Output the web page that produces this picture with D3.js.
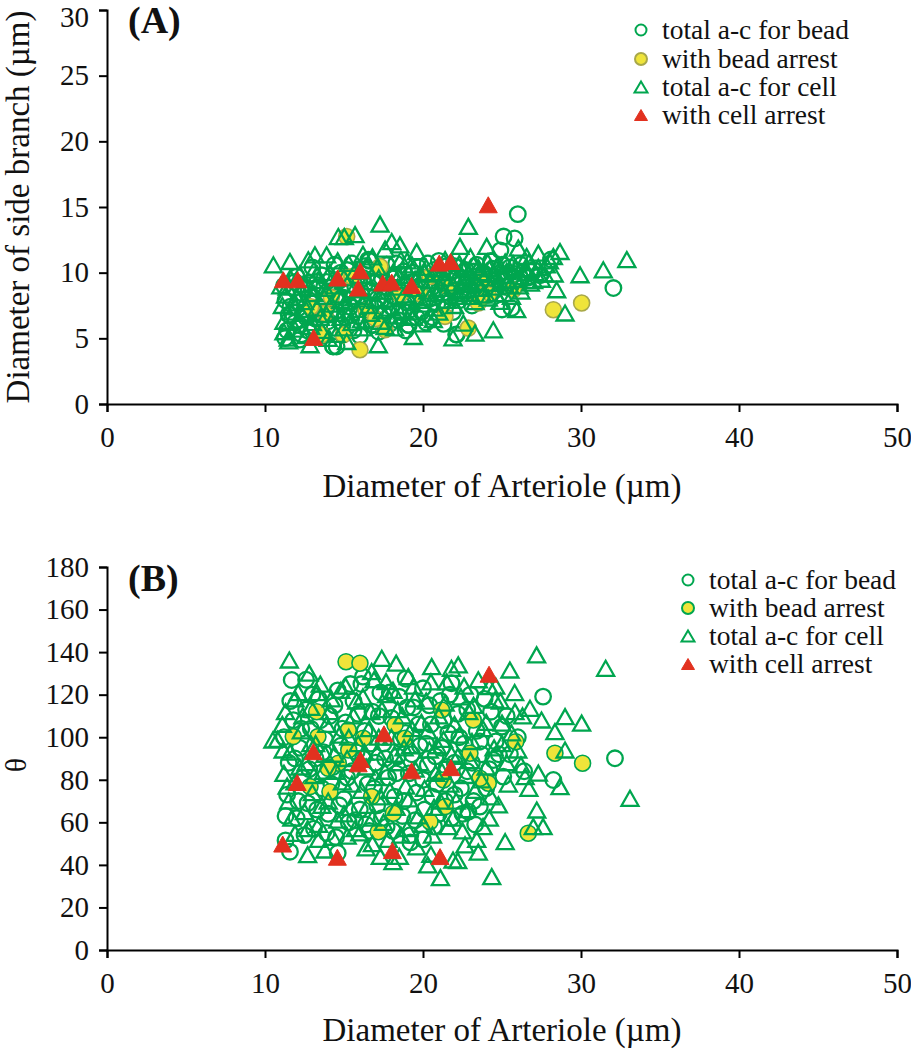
<!DOCTYPE html>
<html><head><meta charset="utf-8">
<script src="https://cdn.jsdelivr.net/npm/d3@7"></script>
<style>
html,body{margin:0;padding:0;background:#fff;}
svg{display:block;font-family:"Liberation Serif","Times New Roman",serif;}
svg text{font-family:"Liberation Serif","Times New Roman",serif;}
</style></head>
<body><svg id="c" width="911" height="1050"></svg>
<script>
// ---------- DATA ----------
const seriesNames = ["total a-c for bead","with bead arrest","total a-c for cell","with cell arrest"];
const xTicks = [0,10,20,30,40,50];
const yTicksA = [0,5,10,15,20,25,30];
const yTicksB = [0,20,40,60,80,100,120,140,160,180];

// Panel A: [arteriole diameter, side-branch diameter]
const beadTotalA = [[11.3,7.9],[11.5,6.8],[11.4,5.6],[11.8,8.8],[11.9,6.2],[12.1,7.3],[12.3,5.3],[12.4,8.4],[12.6,6.6],[12.8,9.2],[12.9,7.7],[13.1,5.9],[13.3,8.9],[13.5,6.9],[13.6,9.8],[13.8,7.8],[14.0,6.3],[14.2,8.6],[14.3,4.4],[14.5,7.1],[14.7,9.4],[14.9,6.0],[15.0,8.1],[15.2,10.2],[15.4,7.4],[15.6,5.6],[15.7,9.0],[15.9,6.7],[16.1,8.3],[16.3,10.5],[16.5,7.6],[16.6,10.9],[16.8,6.0],[16.9,9.2],[17.1,8.0],[17.3,10.3],[17.5,6.9],[17.7,10.6],[17.8,8.8],[18.0,7.4],[18.2,9.6],[18.4,6.4],[18.6,8.5],[18.8,10.1],[19.0,7.7],[19.1,6.0],[19.3,9.3],[19.5,8.2],[19.7,10.4],[19.9,7.0],[20.1,9.0],[20.3,10.7],[20.4,8.0],[20.6,6.6],[20.8,9.6],[21.0,10.9],[21.2,8.4],[21.4,7.3],[21.6,9.9],[21.8,8.8],[22.0,10.5],[22.1,5.3],[22.3,7.9],[22.5,9.3],[22.7,10.2],[22.9,8.6],[23.1,7.5],[23.3,9.7],[23.4,10.6],[23.6,8.9],[23.8,10.0],[24.0,8.3],[24.2,9.5],[24.4,10.3],[24.6,8.7],[24.9,11.7],[25.0,7.2],[25.1,12.75],[25.2,9.8],[25.5,10.4],[25.6,7.3],[25.8,12.6],[26.0,14.46],[26.0,9.3],[26.3,10.0],[26.6,9.6],[27.0,10.2],[27.4,9.8],[28.1,11.0],[32.05,8.83],[22.13,5.27],[19.07,6.03],[16.54,10.98],[17.7,10.6],[14.53,4.38],[11.27,5.02],[16.75,6.03],[14.32,4.38],[12.0,9.7],[11.2,9.0],[13.0,10.4],[14.4,10.6],[12.2,4.9],[18.9,5.6],
 [11.6,7.4],[11.9,9.3],[12.2,6.0],[12.5,8.9],[12.7,5.6],[13.0,8.2],[13.2,6.5],[13.4,7.4],[13.7,5.2],[13.9,9.3],[14.1,7.0],[14.4,5.8],[14.6,8.2],[14.8,10.0],[15.1,6.6],[15.3,8.7],[15.5,10.7],[15.8,7.9],[16.0,5.2],[16.2,9.6],[16.4,6.3],[16.7,8.6],[17.0,7.3],[17.2,5.5],[17.4,9.6],[17.6,7.8],[17.9,6.1],[18.1,8.2],[18.3,10.7],[18.5,7.0],[18.8,9.0],[19.2,7.2],[19.4,10.0],[19.6,6.6],[19.8,9.0],[20.0,7.9],[20.2,6.2],[20.5,8.8],[20.7,10.2],[20.9,7.6],[21.1,9.4],[21.3,6.1],[21.5,10.5],[21.7,8.2],[21.9,7.0],[22.2,9.8],[22.4,8.6],[22.8,9.5],[23.2,10.1],[23.5,8.2],[23.9,9.1],[24.3,10.9],[24.7,9.5],[25.0,10.6],[25.3,8.9],[25.8,9.9],[26.2,10.6],[26.8,10.1]];
const beadArrestA = [[15.17,12.75],[16.01,4.13],[17.6,5.65],[13.59,5.27],[14.96,9.71],[17.28,10.47],[18.54,8.32],[14.96,5.27],[30.04,7.69],[28.25,7.18],[24.13,8.32],[25.72,8.7],[23.5,7.69],[22.87,5.78],[21.39,6.67],[20.45,9.71],[13.8,6.9],[15.5,9.7],[12.9,7.4],[16.4,7.1],[19.8,8.4],[21.6,8.9],[23.8,9.4],[14.2,8.1],[17.0,6.5]];
const cellTotalA = [[10.53,10.6],[11.58,10.85],[14.64,12.75],[15.02,12.75],[15.7,12.9],[17.28,13.7],[18.02,12.37],[18.54,12.12],[13.16,11.36],[13.9,11.36],[12.74,10.98],[17.17,4.51],[12.85,4.51],[11.47,5.02],[19.39,5.14],[15.17,4.76],[22.87,13.52],[24.03,12.0],[22.34,12.0],[26.03,11.87],[26.56,11.23],[27.3,11.49],[28.25,11.23],[28.67,11.61],[29.94,9.84],[31.41,10.22],[28.46,8.7],[28.99,6.93],[25.93,7.18],[24.87,7.81],[24.45,5.65],[23.29,5.4],[22.55,6.16],[20.65,6.42],[24.13,8.07],[32.9,11.0],[21.9,5.04],
 [11.0,9.0],[11.1,7.5],[11.2,6.3],[11.3,8.3],[11.5,4.8],[11.6,9.6],[11.7,7.0],[11.9,5.7],[12.0,8.1],[12.2,9.9],[12.3,6.9],[12.5,7.8],[12.6,5.2],[12.8,8.8],[13.0,6.2],[13.1,10.2],[13.3,7.3],[13.4,9.4],[13.6,5.6],[13.7,8.2],[13.9,6.8],[14.1,10.0],[14.2,7.6],[14.4,9.0],[14.5,5.3],[14.7,8.3],[14.8,6.6],[15.0,9.6],[15.1,7.8],[15.3,10.7],[15.5,6.2],[15.6,8.7],[15.8,7.2],[16.0,9.8],[16.2,5.8],[16.3,8.0],[16.5,9.3],[16.7,6.9],[16.8,11.2],[17.0,7.9],[17.2,9.6],[17.3,6.3],[17.5,8.6],[17.6,11.8],[17.9,7.3],[18.1,10.0],[18.2,5.8],[18.4,8.9],[18.6,11.0],[18.7,7.1],[18.9,9.4],[19.1,8.1],[19.3,10.6],[19.4,6.6],[19.6,8.8],[19.8,9.9],[20.0,7.6],[20.2,10.4],[20.3,8.6],[20.5,9.4],[20.7,7.3],[20.9,10.3],[21.1,8.8],[21.3,9.6],[21.5,7.9],[21.7,10.2],[21.9,9.0],[22.1,8.2],[22.3,10.7],[22.5,9.3],[22.7,8.4],[22.9,10.0],[23.1,9.1],[23.3,7.8],[23.5,10.4],[23.7,8.8],[23.9,9.6],[24.1,10.8],[24.3,8.9],[24.5,9.9],[24.7,10.5],[24.9,9.2],[25.1,8.4],[25.3,10.1],[25.5,9.0],[25.7,10.7],[26.0,9.5],[26.2,8.6],[26.5,10.3],[26.8,9.2],[27.1,10.0],[27.5,9.5],[27.8,10.6],[28.3,9.9],[23.0,11.2],[21.4,11.0],[19.6,11.6],[16.2,11.4],[14.6,10.9],
 [11.2,5.5],[11.4,8.9],[11.8,7.7],[12.1,6.4],[12.4,9.1],[12.6,7.2],[12.9,5.9],[13.1,8.4],[13.3,9.9],[13.5,6.6],[13.8,8.8],[14.0,5.0],[14.3,9.6],[14.5,6.9],[14.8,7.9],[15.0,5.8],[15.2,9.1],[15.4,7.0],[15.7,10.1],[15.9,8.2],[16.1,6.4],[16.4,10.5],[16.6,7.5],[16.9,8.6],[17.1,10.4],[17.4,7.1],[17.6,5.9],[17.8,9.2],[18.0,8.0],[18.3,6.7],[18.5,9.8],[18.8,8.3],[19.0,10.9],[19.2,7.0],[19.5,9.5],[19.7,7.9],[19.9,6.1],[20.1,10.0],[20.4,8.1],[20.6,9.9],[20.8,8.4],[21.0,7.0],[21.2,10.0],[21.4,8.5],[21.6,9.2],[21.8,10.8],[22.0,7.5],[22.2,9.8],[22.4,8.7],[22.6,10.4],[22.8,9.4],[23.0,8.2],[23.2,10.6],[23.4,9.2],[23.6,10.0],[23.8,8.3],[24.0,9.9],[24.2,10.3],[24.4,9.2],[24.6,8.4],[24.8,10.6],[25.0,9.8],[25.2,10.8],[25.4,9.4],[25.6,8.2],[25.9,10.3],[26.1,9.0],[26.4,9.7],[26.7,10.8],[27.0,9.4],[27.3,10.4],[27.7,9.9],[28.0,10.9]];
const cellArrestA = [[11.16,9.46],[12.07,9.46],[14.6,9.59],[16.03,10.14],[15.9,8.83],[17.45,9.21],[18.02,9.28],[19.28,9.03],[13.08,5.07],[21.03,10.73],[21.75,10.85],[24.13,15.17]];

// Panel B: [arteriole diameter, angle θ]
const beadTotalB = [[11.69,126.9],[11.58,46.2],[11.3,51.5],[27.6,119.1],[32.15,90.1],[28.25,79.9],[25.08,81.5],[24.45,89.3],[23.6,67.4],[22.87,65.0],[21.8,125.4],[20.0,52.0],[19.2,50.6],[14.6,45.6],[12.6,127],[16.2,128.5],[18.9,127.5],
 [11.2,100],[11.5,88],[11.4,73],[11.8,108],[12.0,62],[12.2,95],[12.4,81],[12.6,113],[12.7,69],[12.9,104],[13.1,57],[13.2,90],[13.4,118],[13.6,76],[13.8,99],[14.0,64],[14.1,110],[14.3,86],[14.5,53],[14.6,122],[14.8,96],[15.0,71],[15.1,107],[15.3,60],[15.5,84],[15.6,117],[15.8,93],[16.0,66],[16.1,125],[16.3,103],[16.5,78],[16.6,56],[16.8,112],[17.0,88],[17.1,68],[17.3,121],[17.5,97],[17.7,58],[17.8,81],[18.0,109],[18.2,72],[18.4,91],[18.5,119],[18.7,63],[18.9,102],[19.1,83],[19.2,54],[19.4,114],[19.6,74],[19.8,96],[20.0,123],[20.1,66],[20.3,87],[20.5,106],[20.7,58],[20.9,78],[21.1,117],[21.2,95],[21.4,70],[21.6,102],[21.8,62],[22.0,88],[22.2,111],[22.4,76],[22.6,97],[22.8,84],[23.0,120],[23.2,70],[23.4,103],[23.7,92],[24.0,76],[24.3,112],[24.6,98],[25.0,105],[25.5,92],[26.0,100],[26.4,84],
 [11.3,63],[11.6,117],[11.9,90],[12.1,70],[12.3,104],[12.5,54],[12.8,85],[13.0,120],[13.3,66],[13.5,108],[13.7,93],[13.9,55],[14.2,78],[14.4,115],[14.7,68],[14.9,104],[15.2,81],[15.4,125],[15.7,61],[15.9,111],[16.2,90],[16.4,59],[16.7,97],[16.9,76],[17.2,110],[17.4,62],[17.6,90],[17.9,121],[18.1,56],[18.3,83],[18.6,99],[18.8,70],[19.0,114],[19.3,92],[19.5,61],[19.7,106],[20.0,80],[20.2,97],[20.4,115],[20.6,72],[20.8,91],[21.0,64],[21.3,108],[21.5,86],[21.7,120],[22.0,73],[22.3,100],[22.5,64],[22.8,113],[23.1,88],[23.3,59],[23.6,98],[23.9,118],[24.2,85],[24.8,92],[25.3,110]];
const beadArrestB = [[15.13,135.5],[16.01,134.8],[13.27,112.0],[13.35,100.3],[11.79,100.3],[15.27,103.4],[16.22,99.5],[18.23,105.8],[18.86,99.5],[15.3,94.0],[14.64,87.8],[14.0,85.4],[14.11,74.4],[12.85,76.8],[16.75,72.1],[18.12,64.3],[17.17,55.6],[20.44,60.3],[21.4,67.4],[21.18,112.8],[21.3,79.9],[23.18,108.1],[22.97,92.5],[24.13,78.4],[23.6,80.7],[25.87,97.9],[28.35,92.5],[30.1,87.8],[26.66,54.9]];
const cellTotalB = [[11.54,136.3],[17.39,137.1],[18.3,134.8],[20.55,133.2],[17.66,126.1],[19.07,128.5],[12.8,130.1],[16.75,130.8],[27.19,138.7],[31.56,132.4],[25.5,131.6],[22.23,134.0],[21.8,132.4],[24.56,117.5],[24.2,123.8],[26.77,113.6],[27.5,108.1],[28.99,109.7],[30.04,106.6],[28.35,102.6],[28.99,94.0],[25.82,112.0],[25.0,106.6],[28.67,76.8],[27.3,83.1],[26.46,81.5],[33.1,71.3],[27.2,65.8],[27.6,58.0],[26.98,58.0],[25.2,50.9],[24.35,34.5],[24.77,68.2],[23.8,58.0],[22.66,49.4],[21.9,42.3],[21.1,34.0],[10.8,99],[11.2,83],[11.5,70],[11.9,54.8],[13.4,52.0],[15.2,53.5],[16.4,48],[18.1,41.5],[17.3,44],[20.5,45],[19.6,48.5],[10.5,98.7],[11.15,94],
 [11.3,112],[11.6,93],[11.9,79],[12.1,121],[12.3,103],[12.5,65],[12.6,88],[12.9,114],[13.0,74],[13.2,97],[13.4,59],[13.5,125],[13.7,84],[13.9,106],[14.0,70],[14.2,118],[14.4,92],[14.6,61],[14.7,101],[14.9,79],[15.1,124],[15.2,90],[15.4,67],[15.6,110],[15.7,57],[15.9,97],[16.1,75],[16.2,119],[16.4,86],[16.6,104],[16.8,62],[16.9,127],[17.1,93],[17.3,72],[17.4,113],[17.6,84],[17.8,52],[18.0,100],[18.1,122],[18.3,67],[18.5,88],[18.7,110],[18.9,77],[19.0,57],[19.2,96],[19.4,124],[19.5,85],[19.7,63],[19.9,107],[20.1,76],[20.2,117],[20.4,94],[20.6,54],[20.8,83],[21.0,110],[21.1,70],[21.3,99],[21.5,126],[21.7,78],[21.9,62],[22.0,106],[22.2,91],[22.4,119],[22.5,56],[22.7,82],[22.9,112],[23.1,98],[23.3,75],[23.5,127],[23.8,104],[24.0,86],[24.2,62],[24.5,95],[24.9,117],[25.3,88],[25.6,102],[26.0,94],[26.3,110],[26.7,76],[23.5,46],[22.2,42],[20.3,40],[18.5,44],[16.8,50],[13.8,47],[12.7,44.8],
 [11.1,106],[11.4,77],[11.7,62],[11.9,118],[12.2,86],[12.4,110],[12.7,57],[12.9,97],[13.1,82],[13.3,121],[13.6,68],[13.8,92],[14.1,112],[14.3,53],[14.5,84],[14.8,122],[15.0,64],[15.3,100],[15.5,78],[15.8,117],[16.0,55],[16.3,93],[16.5,68],[16.7,112],[17.0,81],[17.2,100],[17.5,60],[17.7,120],[17.9,75],[18.2,92],[18.4,113],[18.6,54],[18.8,95],[19.1,71],[19.3,104],[19.5,118],[19.8,88],[20.0,59],[20.3,103],[20.5,126],[20.7,67],[20.9,96],[21.2,84],[21.4,116],[21.6,58],[21.8,92],[22.1,70],[22.3,101],[22.6,124],[22.8,66],[23.0,89],[23.2,115],[23.4,52],[23.7,80],[24.0,107],[24.3,72],[24.6,124],[25.0,97],[25.4,78],[25.8,121],[26.2,87]];
const cellArrestB = [[11.12,49.8],[12.04,78.7],[13.06,93.2],[14.58,43.6],[15.9,87.5],[16.05,89.5],[17.53,101.6],[18.06,46.7],[19.28,84.2],[21.08,43.9],[21.77,85.7],[24.18,129.6]];

// ---------- STYLE ----------
const GREEN = "#00a64f", YELLOW = "#efe43a", RED = "#e2311f";
const FONT = "Liberation Serif";
const svg = d3.select("#c");

function triPath(w, h) {
  return `M0,${-h/2}L${w/2},${h/2}L${-w/2},${h/2}Z`;
}

function panel(opt) {
  const x = d3.scaleLinear().domain([0, 50]).range([107, 897]);
  const y = d3.scaleLinear().domain(opt.yDomain).range(opt.yRange);
  const g = svg.append("g");

  // axes
  const ax = g.append("g").attr("transform", `translate(0,${opt.yRange[0]})`)
    .call(d3.axisBottom(x).tickValues(xTicks).tickSize(8).tickPadding(14).tickFormat(d3.format("d")));
  const ay = g.append("g").attr("transform", `translate(107,0)`)
    .call(d3.axisLeft(y).tickValues(opt.yTicks).tickSize(8).tickPadding(10).tickFormat(d3.format("d")));
  [ax, ay].forEach(a => {
    a.attr("font-family", FONT).attr("font-size", 29);
    a.select(".domain").attr("stroke", "#000").attr("stroke-width", 2);
    a.selectAll(".tick line").attr("stroke", "#000").attr("stroke-width", 2);
    a.selectAll(".tick text").attr("fill", "#111");
  });
  // keep the topmost y label inside the picture
  ay.selectAll(".tick text").filter(v => y(v) < 14).attr("dy", "0.56em");

  // data
  const d = g.append("g");
  d.selectAll("circle.bt").data(opt.beadTotal).join("circle")
    .attr("cx", p => x(p[0])).attr("cy", p => y(p[1])).attr("r", 7.8)
    .attr("fill", "none").attr("stroke", GREEN).attr("stroke-width", 2.3);
  d.selectAll("circle.ba").data(opt.beadArrest).join("circle")
    .attr("cx", p => x(p[0])).attr("cy", p => y(p[1])).attr("r", 8)
    .attr("fill", YELLOW).attr("stroke", opt.yellowStroke).attr("stroke-width", 1.6);
  d.selectAll("path.ct").data(opt.cellTotal).join("path")
    .attr("d", triPath(17, 15))
    .attr("transform", p => `translate(${x(p[0])},${y(p[1])})`)
    .attr("fill", "none").attr("stroke", GREEN).attr("stroke-width", 2.3).attr("stroke-linejoin", "miter");
  d.selectAll("path.ca").data(opt.cellArrest).join("path")
    .attr("d", triPath(18, 16))
    .attr("transform", p => `translate(${x(p[0])},${y(p[1])})`)
    .attr("fill", RED).attr("stroke", RED).attr("stroke-width", 1);

  // panel label
  g.append("text").attr("x", 128).attr("y", opt.labelY).text(opt.label)
    .attr("font-family", FONT).attr("font-size", 38).attr("font-weight", "bold").attr("fill", "#111");

  // axis titles
  g.append("text").attr("x", 502).attr("y", opt.xTitleY).attr("text-anchor", "middle")
    .attr("font-family", FONT).attr("font-size", 33).attr("fill", "#111").text("Diameter of Arteriole (µm)");
  g.append("text").attr("transform", `translate(${opt.yTitleX},${opt.yTitleCY}) rotate(-90)`)
    .attr("text-anchor", "middle").attr("font-family", FONT).attr("font-size", opt.yTitleSize)
    .attr("fill", "#111").text(opt.yTitle);

  // legend
  const lg = g.append("g");
  seriesNames.forEach((n, i) => {
    const cy = opt.legY[i], mx = opt.legX;
    if (i === 0) lg.append("circle").attr("cx", mx).attr("cy", cy).attr("r", 5.5).attr("fill", "none").attr("stroke", GREEN).attr("stroke-width", 2);
    if (i === 1) lg.append("circle").attr("cx", mx).attr("cy", cy).attr("r", 6).attr("fill", YELLOW).attr("stroke", opt.yellowStroke).attr("stroke-width", 2);
    if (i === 2) lg.append("path").attr("d", triPath(13, 11)).attr("transform", `translate(${mx},${cy})`).attr("fill", "none").attr("stroke", GREEN).attr("stroke-width", 2);
    if (i === 3) lg.append("path").attr("d", triPath(13, 11)).attr("transform", `translate(${mx},${cy})`).attr("fill", RED).attr("stroke", RED).attr("stroke-width", 1);
    lg.append("text").attr("x", mx + 21).attr("y", cy).attr("dy", "0.32em")
      .attr("font-family", FONT).attr("font-size", 27.5).attr("fill", "#111").text(n);
  });
}

panel({
  yDomain: [0, 30], yRange: [404, 10], yTicks: yTicksA,
  beadTotal: beadTotalA, beadArrest: beadArrestA, cellTotal: cellTotalA, cellArrest: cellArrestA,
  yellowStroke: "#a8a84a", label: "(A)", labelY: 33, xTitleY: 497,
  yTitle: "Diameter of side branch (µm)", yTitleX: 29, yTitleCY: 207, yTitleSize: 33,
  legX: 641, legY: [30, 59, 87, 115]
});
panel({
  yDomain: [0, 180], yRange: [950, 567], yTicks: yTicksB,
  beadTotal: beadTotalB, beadArrest: beadArrestB, cellTotal: cellTotalB, cellArrest: cellArrestB,
  yellowStroke: GREEN, label: "(B)", labelY: 591, xTitleY: 1041,
  yTitle: "θ", yTitleX: 26, yTitleCY: 765, yTitleSize: 30,
  legX: 688, legY: [580, 608, 636, 664]
});
</script></body></html>
